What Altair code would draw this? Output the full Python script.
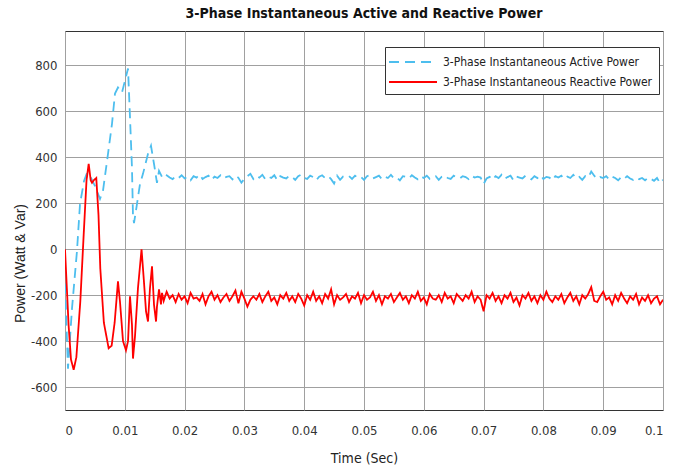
import altair as alt
import pandas as pd

# --- transient part ---
active_t = [0.0, 0.0005, 0.00117, 0.002, 0.00251, 0.00318, 0.00368, 0.00418, 0.00502,
            0.00585, 0.00635, 0.00719, 0.00786, 0.00836, 0.00886, 0.00953, 0.01003,
            0.01054, 0.01087, 0.0112, 0.01137, 0.01154, 0.01204, 0.01254, 0.01304,
            0.01388, 0.01438, 0.01488, 0.01538, 0.01572, 0.01622, 0.01672]
active_v = [-150, -520, -258, -9, 197, 297, 332, 319, 275,
            219, 254, 415, 546, 678, 704, 682, 734,
            787, 573, 354, 144, 114, 197, 284, 328,
            415, 450, 372, 289, 341, 315, 328]

reactive_t = [0.0, 0.0006, 0.001, 0.00145, 0.0019, 0.00256, 0.00313, 0.0036, 0.00396,
              0.0043, 0.00452, 0.0048, 0.00523, 0.0056, 0.0059, 0.0065, 0.0073,
              0.0078, 0.0083, 0.00886, 0.0092, 0.0097, 0.0102, 0.01054, 0.01087,
              0.0112, 0.01137, 0.0117, 0.0122, 0.0128, 0.0132, 0.01355, 0.01388,
              0.01421, 0.01455, 0.01488, 0.01522, 0.01538, 0.01572, 0.01605,
              0.01622, 0.0165, 0.0168]
reactive_v = [0, -330, -480, -525, -470, -227, 66, 300, 372,
              300, 289, 300, 310, 150, -83, -320, -431,
              -420, -320, -140, -230, -400, -440, -400, -205,
              -330, -476, -380, -170, 0, -140, -271, -315,
              -170, -74, -240, -315, -250, -175, -240,
              -190, -225, -200]

# --- steady-state part, sampled every 0.5 ms from 17 ms ---
steady_start = 0.017
steady_step = 0.0005
active_steady = [
    322, 312, 305, 318, 310, 322, 308, 315, 300, 318,
    312, 325, 306, 314, 320, 302, 316, 310, 322, 308,
    315, 318, 304, 320, 311, 290, 306, 318, 328, 306,
    320, 312, 324, 305, 316, 310, 322, 300, 318, 312,
    308, 320, 314, 302, 318, 325, 310, 306, 320, 314,
    300, 316, 322, 310, 318, 305, 286, 320, 302, 316,
    312, 318, 306, 320, 310, 315, 302, 318, 322, 308,
    314, 320, 305, 316, 310, 324, 308, 312, 300, 318,
    315, 308, 322, 312, 304, 318, 310, 320, 306, 314,
    318, 302, 316, 322, 310, 306, 320, 312, 308, 318,
    314, 305, 320, 312, 316, 312, 284, 308, 315, 302,
    318, 310, 324, 306, 314, 320, 300, 316, 312, 308,
    320, 314, 304, 318, 310, 322, 306, 315, 312, 300,
    318, 312, 320, 306, 316, 310, 324, 308, 315, 302,
    318, 312, 338, 320, 306, 314, 310, 318, 304, 316,
    310, 300, 314, 306, 318, 308, 302, 312, 305, 310,
    300, 312, 306, 298, 310, 288, 302]
reactive_steady = [
    -185, -215, -200, -230, -195, -220, -205, -235, -190, -215,
    -210, -225, -195, -240, -205, -185, -220, -200, -230, -210,
    -195, -225, -205, -180, -235, -185, -215, -250, -220, -205,
    -220, -195, -230, -205, -185, -225, -210, -240, -200, -215,
    -190, -225, -205, -230, -195, -215, -245, -200, -220, -185,
    -225, -205, -235, -195, -215, -175, -240, -200, -220, -210,
    -195, -230, -205, -215, -190, -235, -200, -220, -210, -185,
    -225, -200, -240, -205, -215, -195, -230, -210, -190, -220,
    -205, -235, -200, -215, -185, -225, -210, -240, -195, -215,
    -220, -200, -230, -190, -215, -205, -235, -195, -210, -225,
    -200, -215, -185, -230, -205, -220, -270, -200, -215, -190,
    -225, -205, -235, -200, -215, -190, -230, -210, -245, -200,
    -215, -190, -225, -205, -235, -200, -220, -185, -215, -230,
    -205, -220, -195, -235, -210, -190, -225, -205, -240, -200,
    -215, -195, -165, -225, -230, -205, -185, -220, -210, -240,
    -200, -225, -190, -215, -235, -205, -220, -195, -240, -210,
    -225, -200, -235, -215, -205, -240, -220]

series_names = ["3-Phase Instantaneous Active Power", "3-Phase Instantaneous Reactive Power"]
series_colors = ["#4DBEEE", "#FF0000"]
x_ticks = [0, 0.01, 0.02, 0.03, 0.04, 0.05, 0.06, 0.07, 0.08, 0.09, 0.1]
y_ticks = [-600, -400, -200, 0, 200, 400, 600, 800]

rows = []
for name, ts, vs, st in [(series_names[0], active_t, active_v, active_steady),
                         (series_names[1], reactive_t, reactive_v, reactive_steady)]:
    for t, v in zip(ts, vs):
        rows.append({"t": t, "p": v, "series": name})
    for i, v in enumerate(st):
        rows.append({"t": steady_start + steady_step * i, "p": v, "series": name})
df = pd.DataFrame(rows)

NARROW = "Liberation Sans Narrow, DejaVu Sans Condensed, Arial Narrow, sans-serif"

legend_kw = dict(title=None, orient="none", legendX=320, legendY=16,
                 symbolType="M-3,0H3", symbolSize=256, symbolStrokeWidth=1.8,
                 symbolOffset=13, labelOffset=21,
                 labelFont=NARROW, labelFontSize=12, labelColor="#222",
                 strokeColor="#333", fillColor="white",
                 padding=6, rowPadding=5, labelLimit=0)

chart = alt.Chart(df).mark_line(strokeWidth=1.8, clip=True).encode(
    x=alt.X("t:Q",
            scale=alt.Scale(domain=[0, 0.1], nice=False, zero=False),
            axis=alt.Axis(values=x_ticks, title="Time (Sec)",
                          labelExpr="format(datum.value, '.2~f')",
                          labelPadding=14, titleY=48, titleBaseline="middle",
                          titleFont=NARROW, titleFontSize=14, titleFontWeight="normal")),
    y=alt.Y("p:Q",
            scale=alt.Scale(domain=[-700, 950], nice=False, zero=False),
            axis=alt.Axis(values=y_ticks, title="Power (Watt & Var)",
                          labelExpr="'' + datum.value",
                          labelPadding=8, titleX=-45, titleY=232, titleAngle=-90,
                          titleAlign="center", titleBaseline="middle",
                          titleFont="Liberation Sans", titleFontSize=14,
                          titleFontWeight="normal")),
    color=alt.Color("series:N",
                    scale=alt.Scale(domain=series_names, range=series_colors),
                    legend=alt.Legend(**legend_kw)),
    strokeDash=alt.StrokeDash("series:N",
                              scale=alt.Scale(domain=series_names, range=[[10, 6], [1, 0]]),
                              legend=alt.Legend(**legend_kw)),
    order="t:Q",
).properties(
    width=598, height=379,
    title=alt.Title("3-Phase Instantaneous Active and Reactive Power",
                    font=NARROW, fontSize=14, fontWeight="bold", color="#111", offset=10),
    autosize=alt.AutoSizeParams(type="none"),
    padding={"left": 65, "top": 31, "right": 25, "bottom": 60},
    background="white",
).configure_view(
    stroke="#333", strokeWidth=1
).configure_axis(
    domain=False, ticks=False, grid=True, gridColor="#a0a0a0", gridWidth=1,
    labelFont=NARROW, labelFontSize=13, labelColor="#333", titleColor="#222",
)

chart.save("out.html", embed_options={"renderer": "svg", "actions": False})
